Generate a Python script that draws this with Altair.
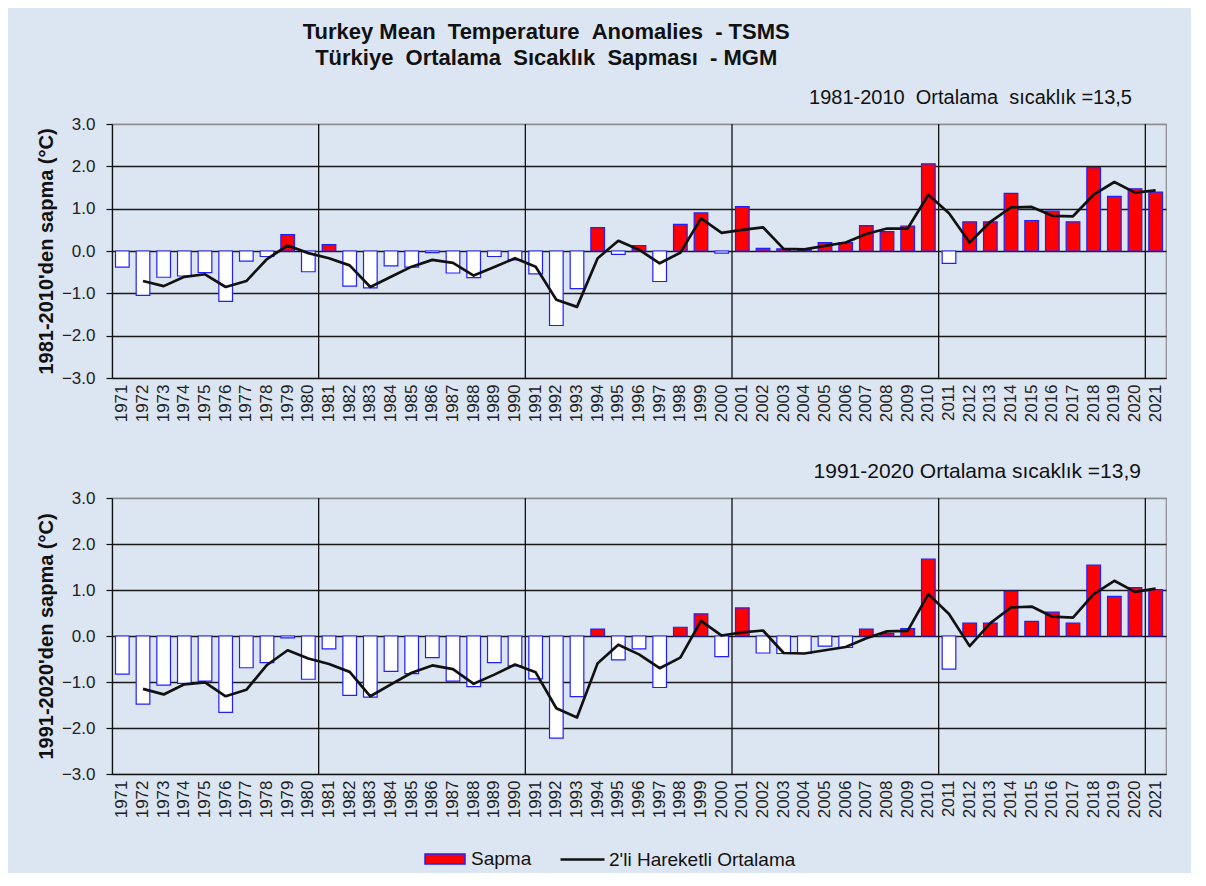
import altair as alt
import pandas as pd

years = list(range(1971, 2022))
decade_edges = [1980, 1990, 2000, 2010, 2020]

# 1981-2010 anomalies (top panel)
sapma_8110 = [
    -0.38, -1.05, -0.62, -0.59, -0.51, -1.19, -0.24, -0.13, 0.39, -0.49,
    0.15, -0.83, -0.87, -0.35, -0.38, -0.04, -0.52, -0.63, -0.13, -0.21,
    -0.54, -1.76, -0.89, 0.55, -0.08, 0.13, -0.72, 0.63, 0.90, -0.05,
    1.05, 0.06, 0.05, 0.03, 0.20, 0.20, 0.60, 0.46, 0.59, 2.06,
    -0.29, 0.69, 0.69, 1.36, 0.72, 0.94, 0.69, 1.97, 1.29, 1.47, 1.39,
]
# 2'li hareketli ortalama, 1972-2021 (top panel)
ort_8110 = [
    -0.71, -0.83, -0.61, -0.55, -0.85, -0.71, -0.19, 0.13, -0.05,
    -0.17, -0.34, -0.85, -0.61, -0.37, -0.21, -0.28, -0.58, -0.38, -0.17,
    -0.37, -1.15, -1.32, -0.17, 0.24, 0.03, -0.29, -0.04, 0.77, 0.43,
    0.50, 0.56, 0.05, 0.04, 0.12, 0.20, 0.40, 0.53, 0.53, 1.33,
    0.89, 0.20, 0.69, 1.03, 1.04, 0.83, 0.82, 1.33, 1.63, 1.38, 1.43,
]
# 1991-2020 anomalies (bottom panel)
sapma_9120 = [
    -0.83, -1.48, -1.07, -1.03, -0.98, -1.66, -0.69, -0.58, -0.04, -0.94,
    -0.28, -1.29, -1.33, -0.77, -0.82, -0.47, -0.98, -1.10, -0.58, -0.65,
    -0.93, -2.22, -1.32, 0.15, -0.52, -0.28, -1.12, 0.19, 0.48, -0.45,
    0.61, -0.37, -0.38, -0.38, -0.22, -0.25, 0.15, 0.05, 0.16, 1.67,
    -0.72, 0.28, 0.28, 0.97, 0.32, 0.52, 0.28, 1.54, 0.86, 1.05, 1.01,
]
ort_9120 = [
    -1.15, -1.27, -1.05, -1.01, -1.31, -1.17, -0.63, -0.31, -0.49,
    -0.61, -0.78, -1.31, -1.05, -0.80, -0.64, -0.72, -1.04, -0.84, -0.62,
    -0.79, -1.57, -1.77, -0.59, -0.19, -0.40, -0.70, -0.47, 0.33, 0.01,
    0.08, 0.12, -0.37, -0.38, -0.31, -0.24, -0.05, 0.10, 0.11, 0.91,
    0.48, -0.22, 0.28, 0.62, 0.64, 0.42, 0.40, 0.91, 1.20, 0.96, 1.03,
]

y_ticks = [-3, -2, -1, 0, 1, 2, 3]

SAPMA = "Sapma"
ORT = "2'li Hareketli Ortalama"
FONT = "Liberation Sans"
BG = "#dce6f2"
NB = "\u00a0"


def panel(values, avg, ytitle, subtitle, sub_size, sub_dx, height, show_legend):
    bars_df = pd.DataFrame({"year": years, "v": values})
    line_df = pd.DataFrame({"year": years[1:], "m": avg})
    edge_df = pd.DataFrame({"year": decade_edges})

    x_enc = alt.X(
        "year:O",
        title=None,
        scale=alt.Scale(paddingInner=0, paddingOuter=0),
        axis=alt.Axis(labelAngle=270, labelFontSize=17, labelPadding=6,
                      ticks=False, domain=True, domainColor="#111",
                      labelColor="#222", labelFont=FONT, labelBaseline="middle",
                      labelAlign="right"),
    )
    y_scale = alt.Scale(domain=[-3, 3], nice=False)

    if show_legend:
        fill_legend = alt.Legend(
            title=None, orient="none", legendX=322, legendY=350,
            values=[SAPMA], direction="horizontal",
            symbolType="M-2,-0.5L2,-0.5L2,0.5L-2,0.5Z", symbolSize=400,
            symbolStrokeColor="#2020ff", symbolStrokeWidth=1.5,
            labelFontSize=19, labelFont=FONT, labelColor="#111", labelOffset=15,
            labelLimit=400,
        )
        stroke_legend = alt.Legend(
            title=None, orient="none", legendX=459, legendY=350,
            direction="horizontal", symbolType="M-2.2,0L2.2,0", symbolSize=400,
            symbolStrokeWidth=2.5, labelFontSize=19, labelFont=FONT,
            labelColor="#111", labelOffset=15, labelLimit=400,
        )
    else:
        fill_legend = None
        stroke_legend = None

    bars = alt.Chart(bars_df).transform_calculate(
        kind=f"datum.v >= 0 ? '{SAPMA}' : 'neg'"
    ).mark_bar(
        width=alt.RelativeBandSize(0.66), stroke="#2020ff", strokeWidth=1.2
    ).encode(
        x=x_enc,
        y=alt.Y("v:Q", scale=y_scale, title=ytitle,
                axis=alt.Axis(values=y_ticks, format=".1f")),
        fill=alt.Fill("kind:N",
                      scale=alt.Scale(domain=[SAPMA, "neg"], range=["#ff0000", "#ffffff"]),
                      legend=fill_legend),
    )

    edges = alt.Chart(edge_df).mark_rule(color="#111", strokeWidth=1.3).encode(
        x=alt.X("year:O", bandPosition=1),
    )

    line = alt.Chart(line_df).transform_calculate(
        lbl=f'"{ORT}"'
    ).mark_line(strokeWidth=2.7, strokeJoin="round").encode(
        x=alt.X("year:O"),
        y=alt.Y("m:Q", scale=y_scale),
        stroke=alt.Stroke("lbl:N", scale=alt.Scale(domain=[ORT], range=["#111111"]),
                          legend=stroke_legend),
    )

    return alt.layer(edges, bars, line).properties(
        width=1054, height=height,
        title=alt.TitleParams(subtitle, anchor="end", dx=sub_dx, fontSize=sub_size,
                              fontWeight="normal", font=FONT, color="#111", offset=7),
    ).resolve_scale(fill="independent", stroke="independent")


top = panel(sapma_8110, ort_8110, "1981-2010'den sapma (°C)",
            f"1981-2010 {NB}Ortalama {NB}sıcaklık =13,5", 20, -34, 254, False)
bottom = panel(sapma_9120, ort_9120, "1991-2020'den sapma (°C)",
               "1991-2020 Ortalama sıcaklık =13,9", 21, -25, 276, True)

chart = alt.vconcat(top, bottom, spacing=37).resolve_scale(
    fill="independent", stroke="independent"
).resolve_legend(fill="independent", stroke="independent").properties(
    title=alt.TitleParams(
        [f"Turkey Mean {NB}Temperature {NB}Anomalies {NB}- TSMS",
         f"Türkiye {NB}Ortalama {NB}Sıcaklık {NB}Sapması {NB}- MGM"],
        anchor="middle", dx=-55, fontSize=22, fontWeight="bold", font=FONT,
        color="#111", lineHeight=26, offset=17,
    ),
    padding={"left": 27, "top": 13, "right": 24, "bottom": 2},
    background=BG,
).configure_view(
    stroke="#8c8c8c", strokeWidth=1.2
).configure_axisY(
    grid=True,
    gridColor={"condition": {"test": "datum.value == 3", "value": "#8c8c8c"}, "value": "#1a1a1a"},
    gridWidth=1.3,
    domainColor="#111", domainWidth=1.3,
    tickColor="#111", tickSize=6, tickWidth=1.2,
    labelFontSize=17, labelFont=FONT, labelColor="#222", labelPadding=11,
    titleFontSize=20, titleFont=FONT, titleFontWeight="bold", titleColor="#111",
    titlePadding=5,
).configure_axisX(grid=False)

chart.save("out.html", embed_options={"renderer": "svg", "actions": False})
